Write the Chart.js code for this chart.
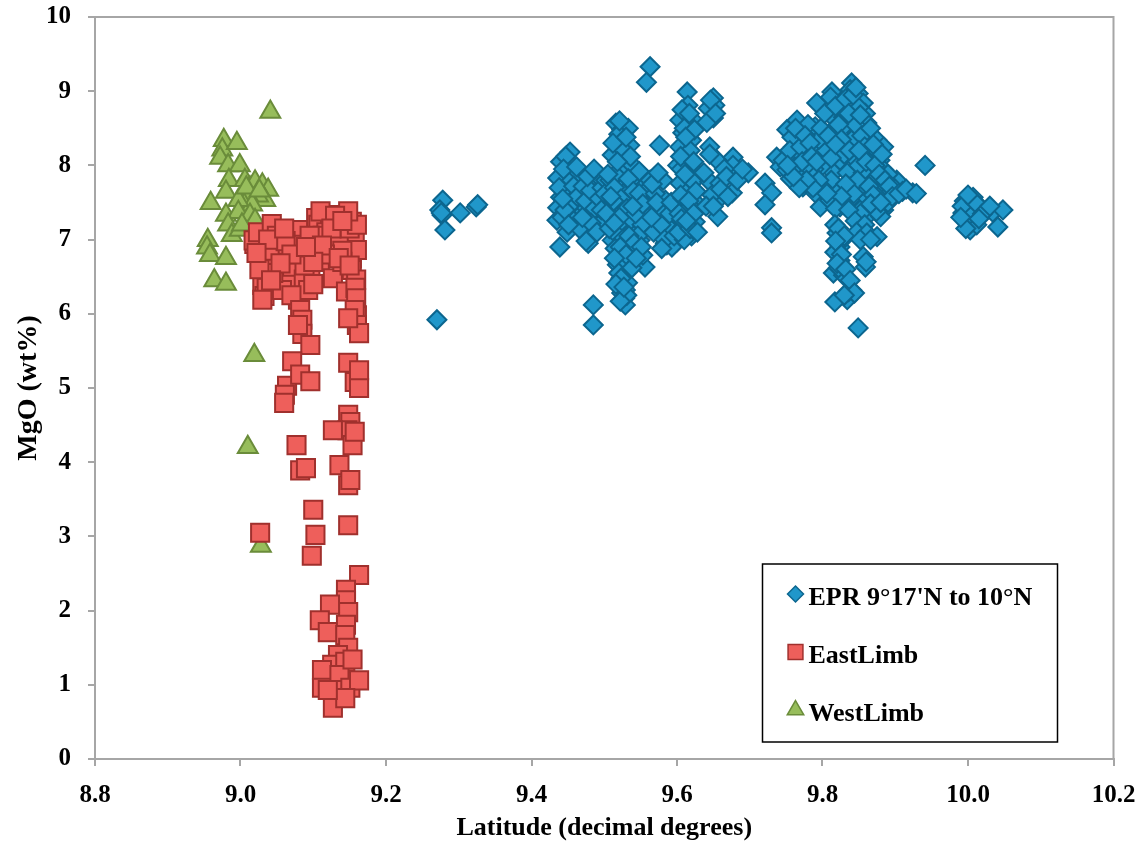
<!DOCTYPE html>
<html>
<head>
<meta charset="utf-8">
<script src="https://cdn.jsdelivr.net/npm/chart.js@4/dist/chart.umd.min.js"></script>
<style>
html,body{margin:0;padding:0;background:#fff;}
#wrap{width:1139px;height:846px;position:relative;}
</style>
</head>
<body>
<div id="wrap"><canvas id="c" width="1139" height="846"></canvas></div>
<script>
// ---------- DATA ----------
const seriesNames = ["EPR 9°17'N to 10°N", "EastLimb", "WestLimb"];
const xTickLabels = ["8.8","9.0","9.2","9.4","9.6","9.8","10.0","10.2"];
const yTickLabels = ["0","1","2","3","4","5","6","7","8","9","10"];
const xAxisTitle = "Latitude (decimal degrees)";
const yAxisTitle = "MgO (wt%)";

const eprLat = [
9.270,9.278,9.274,9.277,9.281,9.276,9.302,9.324,9.326,
9.440,9.453,9.447,9.436,9.440,9.436,9.435,9.449,9.439,9.467,9.478,9.475,9.485,9.485,9.467,9.476,9.485,9.462,9.494,9.490,9.480,
9.455,9.450,9.445,9.470,9.478,9.495,9.500,9.505,9.460,9.472,9.488,9.498,9.442,9.455,9.465,9.492,9.483,9.503,9.468,
9.438,9.444,9.452,9.458,9.463,9.471,9.474,9.481,9.487,9.493,9.497,9.502,9.458,9.466,9.446,9.451,9.482,9.490,9.477,9.486,
9.462,9.496,9.501,9.470,9.443,
9.516,9.524,9.533,9.518,9.535,9.511,9.529,9.522,9.539,9.508,9.529,9.549,9.515,9.535,9.556,9.511,9.529,9.549,9.519,9.539,
9.511,9.532,9.549,9.522,9.541,9.518,9.529,9.525,9.529,9.528,9.529,9.556,9.553,9.520,9.527,9.515,9.526,9.542,9.520,9.537,
9.545,9.516,9.525,9.515,9.536,9.527,9.520,9.532,9.524,9.514,9.503,9.507,9.552,9.546,9.558,9.562,9.548,
9.512,9.521,9.530,9.536,9.518,9.533,9.540,9.523,9.513,9.531,9.543,9.521,9.514,9.534,9.541,9.522,9.530,9.514,9.538,9.523,
9.516,9.531,9.522,9.527,9.548,9.553,9.509,9.505,9.551,9.544,9.539,
9.563,9.558,9.576,9.563,9.581,9.584,9.581,9.586,9.600,9.581,9.586,9.588,9.584,9.570,9.575,9.593,9.590,9.568,
9.566,9.572,9.578,9.583,9.590,9.596,9.574,9.565,9.579,9.592,
9.614,9.615,9.604,9.622,9.608,9.620,9.604,9.614,9.601,9.614,9.627,9.604,9.620,9.608,9.627,9.614,9.625,9.608,
9.610,9.618,9.606,9.622,9.612,9.618,9.603,9.620,9.610,9.602,
9.607,9.617,9.624,9.612,9.605,9.623,9.611,9.626,9.605,9.616,9.623,9.606,9.618,9.628,9.613,
9.650,9.652,9.643,9.650,9.645,9.655,9.645,9.677,9.677,9.698,9.645,9.659,9.676,9.656,9.656,9.648,9.665,9.640,9.637,
9.646,9.641,9.653,9.660,9.668,9.650,9.670,9.683,9.690,
9.721,9.730,9.721,9.730,9.730,9.737,9.742,9.751,
9.751,9.765,9.769,9.773,9.760,9.746,9.765,9.779,9.769,9.783,9.773,9.790,9.797,9.792,9.790,9.787,9.813,9.824,9.840,9.849,
9.856,9.859,9.861,9.815,9.829,9.842,9.815,9.834,9.847,9.863,9.820,9.840,9.875,9.884,9.824,9.842,9.865,9.879,9.884,9.815,
9.834,9.856,9.870,9.888,9.902,9.820,9.838,9.856,9.879,9.893,9.924,9.910,9.810,9.824,9.842,9.856,9.870,9.884,9.861,9.880,
9.941,9.800,9.805,9.795,9.780,9.758,9.828,9.850,9.838,9.845,9.868,9.874,9.890,9.898,9.850,9.830,9.812,9.800,9.788,9.778,
9.762,9.756,9.862,9.876,9.890,
9.755,9.763,9.770,9.776,9.783,9.772,9.785,9.792,9.798,9.803,9.808,9.811,9.818,9.822,9.826,9.832,9.836,9.842,9.846,9.852,
9.854,9.858,9.860,9.866,9.870,9.872,9.878,9.882,9.886,9.892,9.896,9.848,9.843,9.832,9.826,9.818,9.806,9.795,9.787,9.778,
9.768,9.760,9.752,9.812,9.818,9.837,9.850,9.864,9.870,9.874,9.866,9.852,9.836,9.845,9.858,9.880,9.905,9.915,9.929,
9.817,9.820,9.824,9.817,9.824,9.815,9.829,9.840,9.834,9.817,9.849,9.847,9.861,9.875,9.856,9.859,9.828,9.822,9.836,
9.822,9.830,9.818,9.826,9.820,9.832,9.838,9.844,9.830,9.852,9.866,9.860,
9.999,9.993,9.999,10.003,10.007,10.017,10.026,10.034,10.048,10.041,10.007,9.996,10.005,10.012,9.995,10.002,
9.992,9.997,10.010,10.020,10.030,10.000,10.015,9.990
];
const eprMgO = [
5.92,7.53,7.40,7.33,7.13,7.36,7.36,7.44,7.47,
8.05,8.18,8.12,7.83,7.57,7.43,7.26,7.10,6.90,7.26,6.95,6.98,6.12,5.85,7.76,7.67,7.53,7.49,7.76,7.40,7.80,
7.62,7.55,7.68,7.60,7.45,7.62,7.48,7.70,7.35,7.38,7.30,7.25,7.30,7.80,7.90,7.85,7.55,7.55,7.50,
7.70,7.95,7.45,7.72,7.58,7.72,7.52,7.66,7.42,7.55,7.70,7.80,7.25,7.15,7.40,7.20,7.22,7.10,7.85,7.95,
7.98,7.40,7.62,7.30,7.55,
8.57,8.48,8.50,8.34,8.27,8.14,8.07,7.94,8.00,7.80,7.74,7.74,7.60,7.53,7.60,7.40,7.33,7.40,7.20,7.13,
6.99,6.93,6.99,6.79,6.72,6.66,6.59,6.46,6.32,6.21,6.12,6.63,6.79,8.42,8.20,7.88,7.62,7.85,7.48,7.27,
7.55,7.08,7.00,6.88,6.85,6.70,6.55,6.42,6.28,7.70,7.35,7.15,7.20,7.05,7.45,7.70,7.92,
8.30,8.60,8.38,8.12,8.05,7.82,7.65,7.55,7.52,7.42,7.35,7.30,7.22,7.05,6.95,6.90,6.80,6.75,6.62,6.48,
6.40,6.25,6.17,6.36,7.62,7.48,7.58,7.88,6.90,6.75,7.45,
9.33,9.12,8.27,7.80,7.80,7.53,7.26,6.93,6.97,7.06,7.44,7.26,6.95,7.62,7.40,6.90,7.15,7.10,
7.75,7.50,7.20,7.00,7.35,7.05,7.90,7.30,6.88,7.50,
8.99,8.81,8.61,8.61,8.44,8.34,8.25,8.11,8.00,7.85,7.90,7.76,7.67,7.56,7.49,7.36,7.24,7.17,
8.50,8.20,7.95,7.78,7.62,7.45,7.35,7.05,7.00,7.10,
8.75,8.70,8.48,8.38,8.12,8.05,7.88,7.65,7.60,7.52,7.35,7.28,7.15,7.10,7.25,
8.91,8.81,8.77,8.64,8.25,8.07,8.15,8.11,8.00,7.90,7.78,7.76,7.63,7.53,7.31,7.60,7.95,7.45,7.90,
8.88,8.58,8.70,7.68,7.85,7.45,7.58,7.80,7.95,
7.76,7.63,7.47,7.16,7.09,8.11,7.98,7.94,
8.48,8.61,8.44,8.30,8.25,8.07,8.11,8.11,7.90,7.85,7.71,7.63,7.44,8.84,8.52,8.25,8.99,8.84,9.11,8.97,
8.84,8.70,8.57,8.64,8.65,8.64,8.48,8.48,8.44,8.38,8.25,8.34,8.34,8.25,8.07,8.11,8.16,8.07,7.94,7.90,
7.90,7.90,7.80,7.76,7.80,7.71,7.71,7.67,7.63,7.63,7.63,7.65,7.53,7.44,7.57,7.44,7.44,7.40,7.31,7.31,
8.00,8.00,8.20,8.35,8.55,8.38,8.75,8.78,9.02,8.55,8.05,8.20,7.88,7.70,8.00,8.15,7.80,7.70,7.95,8.00,
7.98,7.82,7.55,7.58,7.50,
8.20,8.50,8.25,8.40,8.30,8.05,8.12,8.05,8.50,8.70,8.40,8.92,8.80,8.55,8.35,8.90,8.70,8.95,9.05,8.68,
8.40,8.25,8.05,8.50,8.28,8.00,7.88,8.15,7.80,7.72,7.58,7.80,7.62,7.75,7.58,7.42,7.62,7.80,7.70,7.80,
7.70,7.85,8.00,8.10,8.28,8.20,8.20,7.72,7.60,7.38,7.48,7.35,7.40,7.25,7.20,7.50,7.62,7.68,7.62,
7.20,7.09,6.90,6.83,6.72,6.55,6.52,6.32,6.19,6.16,5.81,7.10,7.09,7.04,6.77,6.63,7.00,6.62,6.30,
7.15,7.05,6.98,6.80,6.68,6.60,6.45,6.28,6.25,7.00,7.00,6.70,
7.49,7.36,7.22,7.13,7.57,7.44,7.40,7.37,7.40,7.17,7.30,7.28,7.42,7.20,7.52,7.34,
7.45,7.15,7.50,7.35,7.45,7.60,7.28,7.30
];

const eastLat = [
9.019,9.018,9.024,9.043,9.049,9.030,9.035,9.030,9.033,9.036,9.030,9.068,9.082,9.077,9.082,9.071,9.063,9.057,
9.104,9.107,9.109,9.098,9.123,9.118,9.131,9.123,9.109,9.096,9.087,9.079,9.093,9.127,
9.145,9.153,9.144,9.148,9.157,9.153,9.160,9.140,9.153,9.159,
9.040,9.045,9.050,9.026,9.113,9.135,9.150,9.160,9.095,9.088,9.062,9.070,9.100,9.140,9.116,
9.110,9.148,9.130,9.125,9.140,9.112,9.135,9.150,9.100,9.090,9.055,9.042,9.038,9.022,9.060,9.145,9.158,9.070,9.160,
9.082,9.085,9.085,9.096,9.079,9.159,9.157,9.160,9.163,9.148,
9.071,9.064,9.061,9.060,9.082,9.096,9.148,9.157,9.163,9.163,
9.148,9.151,9.147,9.154,9.157,9.127,9.136,9.077,9.082,9.090,9.148,9.151,
9.100,9.103,9.098,9.148,9.027,9.163,
9.145,9.145,9.148,9.123,9.109,9.120,9.145,9.144,9.148,9.134,9.126,9.144,9.112,9.112,9.136,9.136,9.151,9.163,9.127,9.144,9.120,9.154
];
const eastMgO = [
6.94,6.99,7.10,7.21,6.93,6.75,6.70,6.39,6.24,6.35,6.19,7.06,7.13,6.93,6.75,6.56,6.39,6.32,
7.29,7.20,6.99,6.86,7.33,7.10,7.20,6.89,6.70,6.59,6.46,6.19,6.32,6.48,
7.33,7.24,7.10,6.93,7.05,6.75,6.86,6.70,6.59,6.46,
6.85,6.55,7.05,6.60,7.05,7.02,7.15,7.20,7.05,6.65,6.98,6.80,6.40,6.85,6.80,
7.38,7.38,7.32,7.15,7.25,6.92,6.75,6.65,6.70,6.90,6.68,6.45,7.00,6.82,7.15,6.30,6.35,6.25,5.98,
6.05,5.92,5.73,5.58,5.85,6.21,6.05,5.85,5.74,5.94,
5.36,5.03,4.91,4.80,5.18,5.09,5.34,5.08,5.00,5.24,
4.64,4.54,4.43,4.23,4.41,4.43,3.96,4.23,3.89,3.92,3.69,3.76,
3.36,3.02,2.74,3.15,3.05,2.48,
2.28,2.14,1.98,2.08,1.87,1.71,1.81,1.67,1.50,1.40,1.27,1.31,1.20,0.96,1.13,0.93,0.96,1.06,0.69,0.82,0.93,1.34
];

const westLat = [
9.041,8.977,8.975,8.995,8.972,8.983,8.999,8.984,8.980,8.959,9.006,9.013,9.020,9.030,9.038,9.034,9.024,9.010,9.005,9.016,
8.997,8.980,8.997,9.013,8.983,8.988,8.955,8.954,8.958,8.980,8.964,8.980,9.019,9.010,9.028,8.999,9.020,9.008,9.026,9.002
];
const westMgO = [
8.72,8.34,8.21,8.30,8.10,8.00,8.00,7.80,7.64,7.49,7.80,7.70,7.78,7.74,7.67,7.53,7.59,7.60,7.47,7.47,
7.53,7.33,7.37,7.33,7.20,7.06,6.99,6.89,6.79,6.75,6.45,6.40,5.44,4.20,2.87,7.13,7.26,7.70,7.66,7.20
];

// ---------- STYLE ----------
const FONT = '"Liberation Serif", "Times New Roman", serif';
const AXIS_GRAY = '#A6A6A6';
const toPts = (xs, ys) => xs.map((x, i) => ({x: x, y: ys[i]}));

const datasets = [
  {label: seriesNames[0], data: toPts(eprLat, eprMgO), pointStyle: 'rectRot', pointRadius: 9.5,
   backgroundColor: '#2097CA', borderColor: '#0C668F', borderWidth: 2, legendRadius: 8},
  {label: seriesNames[1], data: toPts(eastLat, eastMgO), pointStyle: 'rect', pointRadius: 12.8,
   backgroundColor: '#EE5F5B', borderColor: '#A0302D', borderWidth: 2, legendRadius: 10.5},
  {label: seriesNames[2], data: toPts(westLat, westMgO), pointStyle: 'triangle', pointRadius: 11.5,
   backgroundColor: '#97BD5B', borderColor: '#6A8C3A', borderWidth: 2, legendRadius: 9.5}
];
datasets.forEach(d => { d.pointBackgroundColor = d.backgroundColor; d.pointBorderColor = d.borderColor;
  d.pointBorderWidth = d.borderWidth; d.pointHoverRadius = d.pointRadius; d.showLine = false; });

const frame = {
  id: 'frame',
  beforeDatasetsDraw(chart) {
    const {ctx, chartArea: a} = chart;
    ctx.save();
    ctx.strokeStyle = AXIS_GRAY; ctx.lineWidth = 2;
    ctx.beginPath();
    ctx.moveTo(a.left, a.top); ctx.lineTo(a.right, a.top); ctx.lineTo(a.right, a.bottom);
    ctx.stroke();
    ctx.restore();
  }
};

const boxLegend = {
  id: 'boxLegend',
  afterDraw(chart) {
    const {ctx, chartArea: a} = chart;
    const left = a.right - 351, top = a.bottom - 195, w = 295, h = 178;
    ctx.save();
    ctx.fillStyle = '#fff';
    ctx.fillRect(left, top, w, h);
    ctx.strokeStyle = '#000'; ctx.lineWidth = 1.5;
    ctx.strokeRect(left, top, w, h);
    ctx.font = 'bold 26px ' + FONT;
    ctx.textBaseline = 'middle'; ctx.textAlign = 'left';
    chart.data.datasets.forEach((d, i) => {
      const cy = top + 32 + i * 58;
      ctx.fillStyle = d.backgroundColor; ctx.strokeStyle = d.borderColor; ctx.lineWidth = 1.5;
      Chart.helpers.drawPoint(ctx, {pointStyle: d.pointStyle, radius: d.legendRadius, rotation: 0, borderWidth: 1.5},
        left + 33, cy - 2);
      ctx.fillStyle = '#000';
      ctx.fillText(d.label, left + 46, cy + 2);
    });
    ctx.restore();
  }
};

new Chart(document.getElementById('c'), {
  type: 'scatter',
  data: {datasets: datasets},
  plugins: [frame, boxLegend],
  options: {
    responsive: false, animation: false, events: [], devicePixelRatio: 1,
    layout: {padding: {top: 17, right: 25.5, left: 0, bottom: 0}},
    plugins: {legend: {display: false}, tooltip: {enabled: false}},
    scales: {
      x: {
        type: 'linear', min: 8.8, max: 10.2,
        ticks: {stepSize: 0.2, color: '#000', padding: 15, maxRotation: 0,
          font: {family: FONT, size: 25, weight: 'bold'},
          callback: (v, i) => xTickLabels[i]},
        grid: {drawOnChartArea: false, drawTicks: true, tickLength: 7, color: AXIS_GRAY, lineWidth: 2},
        border: {display: true, color: AXIS_GRAY, width: 2},
        title: {display: true, text: xAxisTitle, color: '#000', padding: {top: 0, bottom: 2},
          font: {family: FONT, size: 26, weight: 'bold'}},
        afterFit: s => { s.height = 87; s.paddingLeft = 0; s.paddingRight = 0; }
      },
      y: {
        type: 'linear', min: 0, max: 10,
        ticks: {stepSize: 1, color: '#000', padding: 17,
          font: {family: FONT, size: 25, weight: 'bold'},
          callback: (v, i) => yTickLabels[i]},
        grid: {drawOnChartArea: false, drawTicks: true, tickLength: 7, color: AXIS_GRAY, lineWidth: 2},
        border: {display: true, color: AXIS_GRAY, width: 2},
        title: {display: true, text: yAxisTitle, color: '#000', padding: {top: 12, bottom: 0},
          font: {family: FONT, size: 28, weight: 'bold'}},
        afterFit: s => { s.width = 95; s.paddingTop = 0; s.paddingBottom = 0; }
      }
    }
  }
});
</script>
</body>
</html>
